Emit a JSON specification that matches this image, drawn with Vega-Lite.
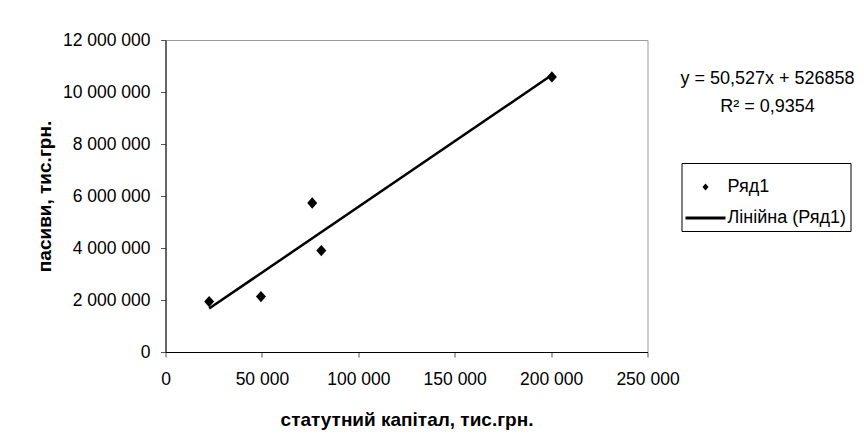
{
  "$schema": "https://vega.github.io/schema/vega-lite/v6.json",
  "width": 482,
  "height": 312,
  "autosize": {"type": "none"},
  "padding": {"left": 165.5, "top": 40, "right": 216.5, "bottom": 93},
  "background": "white",
  "config": {
    "view": {"stroke": "#9a9a9a", "strokeWidth": 1},
    "font": "Liberation Sans",
    "locale": {"number": {"decimal": ",", "thousands": " ", "grouping": [3], "currency": ["", ""]}},
    "axis": {
      "grid": false,
      "domainColor": "#000",
      "domainWidth": 1,
      "tickColor": "#555",
      "tickSize": 5,
      "labelFlush": false,
      "labelFont": "Liberation Sans",
      "labelFontSize": 17.5,
      "labelColor": "#000",
      "titleFont": "Liberation Sans",
      "titleFontSize": 19,
      "titleFontWeight": "bold",
      "titleColor": "#000"
    }
  },
  "title": {
    "text": "y = 50,527x + 526858",
    "subtitle": "R² = 0,9354",
    "anchor": "end",
    "frame": "group",
    "orient": "top",
    "align": "center",
    "dx": 120,
    "dy": 85,
    "offset": 0,
    "font": "Liberation Sans",
    "subtitleFont": "Liberation Sans",
    "fontSize": 18,
    "subtitleFontSize": 18,
    "fontWeight": "normal",
    "color": "#000",
    "subtitleColor": "#000",
    "subtitlePadding": 10
  },
  "layer": [
    {
      "data": {"values": [
        {"x": 22640, "y": 1670789, "series": "Лінійна (Ряд1)"},
        {"x": 200000, "y": 10632258, "series": "Лінійна (Ряд1)"}
      ]},
      "mark": {"type": "line", "color": "#000", "strokeWidth": 2.5},
      "encoding": {
        "x": {"field": "x", "type": "quantitative", "scale": {"domain": [0, 250000], "nice": false, "zero": true},
              "axis": {"values": [0, 50000, 100000, 150000, 200000, 250000], "format": ",d", "labelPadding": 13, "titlePadding": 23, "title": "статутний капітал, тис.грн."}},
        "y": {"field": "y", "type": "quantitative", "scale": {"domain": [0, 12000000], "nice": false},
              "axis": {"values": [0, 2000000, 4000000, 6000000, 8000000, 10000000, 12000000], "format": ",d", "labelPadding": 10.5, "titlePadding": 8, "title": "пасиви, тис.грн."}}
      }
    },
    {
      "data": {"values": [
        {"x": 22640, "y": 1940000, "series": "Ряд1"},
        {"x": 49500, "y": 2130000, "series": "Ряд1"},
        {"x": 76100, "y": 5730000, "series": "Ряд1"},
        {"x": 80800, "y": 3900000, "series": "Ряд1"},
        {"x": 200400, "y": 10580000, "series": "Ряд1"}
      ]},
      "mark": {"type": "point", "filled": true, "color": "#000", "size": 4444, "opacity": 1, "strokeWidth": 0},
      "encoding": {
        "x": {"field": "x", "type": "quantitative"},
        "y": {"field": "y", "type": "quantitative"},
        "shape": {
          "field": "series",
          "type": "nominal",
          "scale": {"domain": ["Ряд1", "Лінійна (Ряд1)"], "range": ["M-0.15,0L0,-0.17L0.15,0L0,0.17Z", "M-1,-0.075H1V0.075H-1Z"]},
          "legend": {
            "title": null,
            "orient": "none",
            "legendX": 516,
            "legendY": 123,
            "padding": 4,
            "strokeColor": "#000",
            "fillColor": "#fff",
            "labelFont": "Liberation Sans",
            "labelFontSize": 18,
            "labelColor": "#000",
            "labelOffset": 2,
            "rowPadding": 2,
            "symbolSize": 1600,
            "symbolStrokeWidth": 0,
            "symbolFillColor": "#000",
            "symbolStrokeColor": "#000"
          }
        }
      }
    }
  ]
}
